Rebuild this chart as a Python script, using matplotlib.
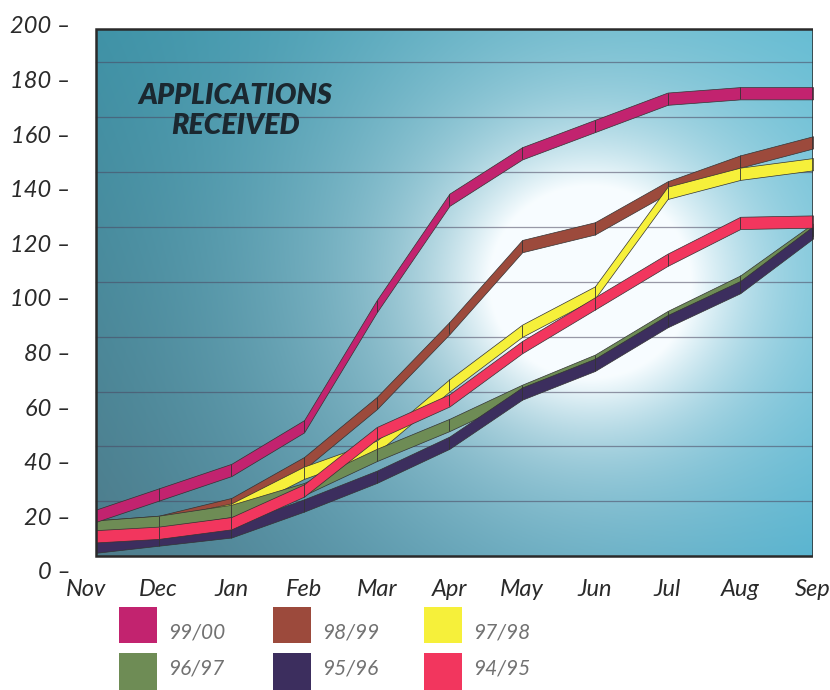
import numpy as np
import matplotlib
matplotlib.use("Agg")
import matplotlib.pyplot as plt
from matplotlib.patches import Rectangle

# ---------------- data ----------------
months = ['Nov', 'Dec', 'Jan', 'Feb', 'Mar', 'Apr', 'May', 'Jun', 'Jul', 'Aug', 'Sep']
y_ticks = [0, 20, 40, 60, 80, 100, 120, 140, 160, 180, 200]
series_labels = ['99/00', '98/99', '97/98', '96/97', '95/96', '94/95']
s9900 = [19, 28, 37, 53, 97, 136, 153, 163, 173, 175, 175]
s9899 = [16, 18, 24.5, 39.5, 61.5, 89, 119, 125.5, 140.5, 150, 157]
s9798 = [15, 17, 22.5, 36, 45.5, 68, 88, 102, 138.5, 145.5, 149]
s9697 = [16, 18, 22, 30, 42.5, 53.5, 66, 77, 93, 106, 125]
s9596 = [8.5, 11.5, 14.5, 24, 34.5, 47, 65, 75.5, 91.5, 104, 124]
s9495 = [12.5, 14, 17.5, 29.5, 50.5, 62.5, 82, 98, 114, 127.5, 128]

colors = {'99/00': '#C2236F', '98/99': '#9C4A3C', '97/98': '#F6F03A',
          '96/97': '#6E8C55', '95/96': '#3C2E5E', '94/95': '#F2365E'}
values = {'99/00': s9900, '98/99': s9899, '97/98': s9798,
          '96/97': s9697, '95/96': s9596, '94/95': s9495}
draw_order = ['98/99', '97/98', '96/97', '95/96', '94/95', '99/00']

# ---------------- figure ----------------
fig = plt.figure(figsize=(8.3, 6.9), dpi=100)
ax = fig.add_axes([0.1036, 0.1725, 0.8759, 0.7913])
ax.set_xlim(0, 10)
ax.set_ylim(0, 200)
for sp in ax.spines.values():
    sp.set_visible(False)

bx0, bx1, by0, by1 = 0.14, 10.0, 5.5, 198.5

# background gradient with bright glow
ny, nx = 300, 400
u = np.linspace(0, 1, nx)[None, :]
v = np.linspace(1, 0, ny)[:, None]
c_tl = np.array([0.24, 0.57, 0.65])
c_bl = np.array([0.30, 0.48, 0.54])
c_tr = np.array([0.31, 0.70, 0.80])
c_br = np.array([0.27, 0.67, 0.79])
U = u[..., None]
V = v[..., None]
base = (c_bl * (1 - U) * (1 - V) + c_br * U * (1 - V)
        + c_tl * (1 - U) * V + c_tr * U * V)
du = (u - 0.69) / 1.0
dv = (v - 0.52) / 1.3
r2 = du ** 2 + dv ** 2
w = 0.62 * np.exp(-r2 / 0.40 ** 2) + 0.9 * np.exp(-r2 / 0.17 ** 2)
w = np.clip(w, 0, 1)[..., None]
img = base * (1 - w) + np.array([0.97, 0.99, 1.0]) * w
ax.imshow(img, extent=[bx0, bx1, by0, by1], aspect='auto', zorder=0,
          interpolation='bilinear')

# grid lines
for gy in np.arange(25.5, 190, 20.1):
    ax.plot([bx0, bx1], [gy, gy], color='#4A4660', lw=0.9, alpha=0.55, zorder=1)

box = Rectangle((bx0, by0), bx1 - bx0, by1 - by0, fill=False,
                edgecolor='#2A2A2A', lw=1.8, zorder=20)
ax.add_patch(box)
clip_rect = Rectangle((bx0, by0), bx1 - bx0, by1 - by0, transform=ax.transData)

# ribbons
x = np.arange(len(months))
half = 2.25
for i, name in enumerate(draw_order):
    yv = np.array(values[name], dtype=float)
    z = 3 + i
    poly = ax.fill_between(x, yv - half, yv + half, facecolor=colors[name],
                           edgecolor='#333333', linewidth=0.5, zorder=z)
    poly.set_clip_path(clip_rect)
    vl = ax.vlines(x[1:-1], yv[1:-1] - half, yv[1:-1] + half,
                   colors='#333333', linewidth=0.6, zorder=z)
    vl.set_clip_path(clip_rect)

# title
ax.text(2.05, 168.5, 'APPLICATIONS\nRECEIVED', ha='center', va='center',
        fontsize=20.5, fontweight='heavy', fontstyle='italic', family='Lato',
        color='#1B2830', linespacing=1.2, zorder=21)

# axis labels
ax.set_yticks(y_ticks)
ax.set_yticklabels([f'{t} \u2013' for t in y_ticks], family='Lato',
                   fontstyle='italic', fontsize=17, color='#2A2A2A')
ax.set_xticks(x)
ax.set_xticklabels(months, family='Lato', fontstyle='italic', fontsize=17,
                   color='#2A2A2A')
ax.tick_params(axis='y', length=0, pad=11)
ax.tick_params(axis='x', length=0, pad=6)

# legend
fig_h = 690.0
fig_w = 830.0
leg_cols = [119, 273, 424]
leg_rows = [(607, 643, 632), (653, 690, 668)]
for idx, name in enumerate(series_labels):
    r, c = divmod(idx, 3)
    x0 = leg_cols[c]
    top, bot, ty = leg_rows[r]
    fig.patches.append(Rectangle((x0 / fig_w, 1 - bot / fig_h), 38 / fig_w,
                                 (bot - top) / fig_h, transform=fig.transFigure,
                                 facecolor=colors[name], edgecolor='none'))
    fig.text((x0 + 49) / fig_w, 1 - ty / fig_h, name, ha='left', va='center',
             family='Lato', fontstyle='italic', fontweight='normal',
             fontsize=15, color='#727272')

fig.savefig('out.png', dpi=100)
